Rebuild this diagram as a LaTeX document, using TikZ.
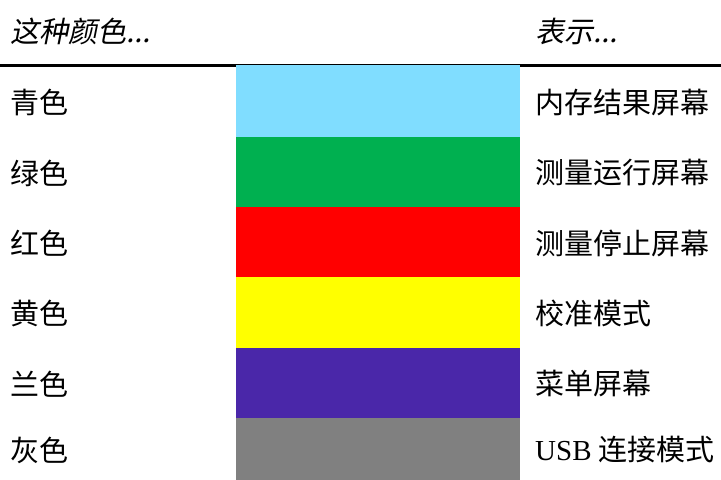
\documentclass[tikz,border=0pt]{standalone}
\usepackage{fontspec}
\setmainfont{Noto Sans CJK SC}
\newfontfamily\slantfont[FakeSlant=0.2]{Noto Sans CJK SC}
\newfontfamily\latinfont{Liberation Serif}
\usepackage{xcolor}
\usepackage{tikz}
\usetikzlibrary{positioning}
\definecolor{memcyan}{HTML}{80DDFF}
\definecolor{rungreen}{HTML}{00B050}
\definecolor{stopred}{HTML}{FF0000}
\definecolor{calyellow}{HTML}{FFFF00}
\definecolor{menupurple}{HTML}{4A27A9}
\definecolor{usbgray}{HTML}{808080}
\tikzset{
  rule/.style={draw=black, line width=3bp},
  swatch/.style={anchor=north west, inner sep=0pt, outer sep=0pt, minimum width=284bp},
  lab/.style={anchor=west, inner sep=0pt, font=\fontsize{29bp}{35bp}\selectfont},
  head/.style={lab, font=\fontsize{29bp}{35bp}\selectfont\slantfont}
}

\begin{document}
\begin{tikzpicture}[x=1bp, y=-1bp]
  \useasboundingbox (0,0) rectangle (721,480);

  \node[head] (hcolor) at (10,31) {这种颜色...};
  \node[head] (hmeaning) at (535,31) {表示...};
  \coordinate (ruleL) at (0,66);
  \coordinate (ruleR) at (721,66);
  \draw[rule] (ruleL) -- (ruleR);

  % colour rows
  \foreach \n/\col/\yt/\yb/\cname/\mean in {
      1/memcyan/65/137/青色/内存结果屏幕,
      2/rungreen/137/207/绿色/测量运行屏幕,
      3/stopred/207/277/红色/测量停止屏幕,
      4/calyellow/277/348/黄色/校准模式,
      5/menupurple/348/418/兰色/菜单屏幕,
      6/usbgray/418/480/灰色/{{\latinfont USB} 连接模式}}{
    \node[swatch, fill=\col, minimum height={(\yb-\yt)*1bp}] (bar\n) at (236,\yt) {};
    \node[lab] (name\n) at (10,{(\yt+\yb)/2+1}) {\cname};
    \node[lab] (mean\n) at (535,{(\yt+\yb)/2+1}) {\mean};
  }
\end{tikzpicture}
\end{document}
